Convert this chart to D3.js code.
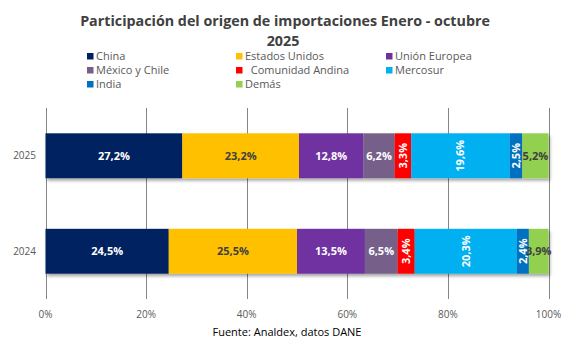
<!DOCTYPE html>
<html>
<head>
<meta charset="utf-8">
<script src="https://cdn.jsdelivr.net/npm/d3@7"></script>
<style>
  body { margin: 0; background: #fff; }
  svg { font-family: "Open Sans", sans-serif; }
  .grid line { stroke: #868686; stroke-width: 1; }
  .tick-label { fill: #595959; font-size: 10px; }
</style>
</head>
<body>
<div class="container"></div>
<script>
const WIDTH = 567;
const HEIGHT = 343;

// data
var years = ["2025", "2024"];
var origins = ["China", "Estados Unidos", "Unión Europea", "México y Chile", "Comunidad Andina", "Mercosur", "India", "Demás"];
var values2025 = [27.2, 23.2, 12.8, 6.2, 3.3, 19.6, 2.5, 5.2];
var values2024 = [24.5, 25.5, 13.5, 6.5, 3.4, 20.3, 2.4, 3.9];
var xTicks = [0, 20, 40, 60, 80, 100];

var colors = ["#002060", "#FFC000", "#7030A0", "#76608A", "#FF0000", "#00B0F0", "#0070C0", "#92D050"];
var labelColors = ["#fff", "#404040", "#fff", "#fff", "#fff", "#fff", "#fff", "#404040"];
var rotated = [false, false, false, false, true, true, true, false];
var legendNames = ["China", "Estados Unidos", "Unión Europea", "México y Chile", "  Comunidad Andina", "Mercosur", "India", "Demás"];

var fmt = function(v){ return v.toFixed(1).replace(".", ",") + "%"; };

var svg = d3.select(".container").append("svg")
  .attr("width", WIDTH)
  .attr("height", HEIGHT);

var defs = svg.append("defs");
var f = defs.append("filter").attr("id", "shadow")
  .attr("x", "-5%").attr("y", "-10%").attr("width", "115%").attr("height", "140%");
f.append("feDropShadow").attr("dx", 1.5).attr("dy", 2.5).attr("stdDeviation", 1.6)
  .attr("flood-color", "#000").attr("flood-opacity", 0.35);

// title
svg.append("text").attr("x", 285).attr("y", 26).attr("text-anchor", "middle")
  .style("font-size", "14.3px").style("font-weight", "bold").attr("fill", "#404040")
  .text("Participación del origen de importaciones Enero - octubre");
svg.append("text").attr("x", 283).attr("y", 45.5).attr("text-anchor", "middle")
  .style("font-size", "14.3px").style("font-weight", "bold").attr("fill", "#404040")
  .text("2025");

// legend
var legend = svg.append("g");
origins.forEach(function(o, i){
  var col = i % 3, row = Math.floor(i / 3);
  var lx = [87, 236, 386][col], ly = 56 + row * 14;
  legend.append("rect").attr("x", lx).attr("y", ly - 3).attr("width", 6.5).attr("height", 6.5)
    .attr("fill", colors[i]);
  legend.append("text").attr("x", lx + 9).attr("y", ly).attr("dy", "0.35em")
    .style("font-size", "11px").style("white-space", "pre").attr("fill", "#595959")
    .text(legendNames[i]);
});

// scales
var x = d3.scaleLinear().domain([0, 100]).range([45.5, 548.5]);
var y = d3.scaleBand().domain(years).range([108, 299]).paddingInner(0.53).paddingOuter(0.265);

// grid
var grid = svg.append("g").attr("class", "grid");
grid.selectAll("line").data(xTicks).enter().append("line")
  .attr("x1", function(d){ return Math.round(x(d)) + 0.5; })
  .attr("x2", function(d){ return Math.round(x(d)) + 0.5; })
  .attr("y1", 108).attr("y2", 299);

svg.selectAll(".tick-label.x").data(xTicks).enter().append("text")
  .attr("class", "tick-label x")
  .attr("x", function(d){ return x(d); }).attr("y", 318)
  .attr("text-anchor", "middle")
  .text(function(d){ return d + "%"; });

svg.selectAll(".tick-label.y").data(years).enter().append("text")
  .attr("class", "tick-label y")
  .attr("x", 36).attr("y", function(d){ return y(d) + y.bandwidth() / 2; })
  .attr("dy", "0.35em").attr("text-anchor", "end")
  .text(function(d){ return d; });

// stacked bars
var rows = [values2025, values2024].map(function(vals, r){
  var acc = 0;
  return vals.map(function(v, i){
    var seg = { year: years[r], i: i, v: v, x0: acc, x1: acc + v };
    acc += v;
    return seg;
  });
});

var barGroups = svg.selectAll(".bar-row").data(rows).enter().append("g")
  .attr("class", "bar-row");

barGroups.append("g").attr("filter", "url(#shadow)")
  .selectAll("rect").data(function(d){ return d; }).enter().append("rect")
  .attr("x", function(d){ return x(d.x0); })
  .attr("width", function(d){ return x(d.x1) - x(d.x0); })
  .attr("y", function(d){ return y(d.year); })
  .attr("height", y.bandwidth())
  .attr("fill", function(d){ return colors[d.i]; });

barGroups.selectAll("text").data(function(d){ return d; }).enter().append("text")
  .attr("transform", function(d){
    var cx = (x(d.x0) + x(d.x1)) / 2, cy = y(d.year) + y.bandwidth() / 2;
    return "translate(" + cx + "," + cy + ")" + (rotated[d.i] ? " rotate(-90)" : "");
  })
  .attr("dy", "0.35em").attr("text-anchor", "middle")
  .style("font-size", "11px").style("font-weight", "bold")
  .attr("fill", function(d){ return labelColors[d.i]; })
  .text(function(d){ return fmt(d.v); });

// source
svg.append("text").attr("x", 287).attr("y", 336).attr("text-anchor", "middle")
  .style("font-size", "11px").attr("fill", "#000")
  .text("Fuente: Analdex, datos DANE");
</script>
</body>
</html>
